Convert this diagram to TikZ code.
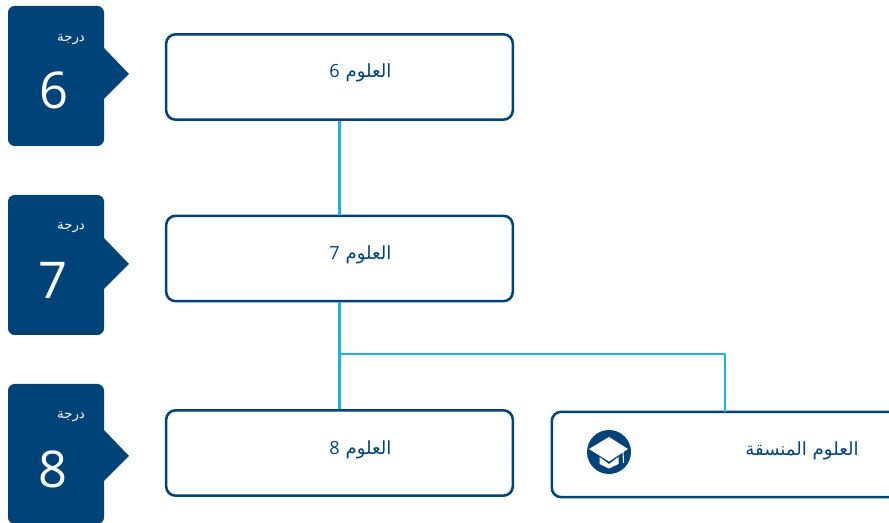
\documentclass[tikz,border=0pt]{standalone}
\usepackage{fontspec}
\setmainfont{Open Sans}
\newfontfamily\arabicfont[Script=Arabic]{DejaVu Sans}
\TeXXeTstate=1
\usepackage{xcolor}
\usetikzlibrary{calc,positioning}
\definecolor{navy}{HTML}{004379}
\definecolor{sky}{HTML}{1FB1E6}
\newcommand{\course}[1]{\arabicfont\beginR العلوم #1\endR}
\tikzset{
  gradebox/.style={fill=navy,rounded corners=5pt,minimum width=72pt,minimum height=105pt,inner sep=0pt},
  coursebox/.style={draw=navy,line width=1.9pt,fill=white,rounded corners=7pt,minimum width=260pt,minimum height=64pt,inner sep=0pt},
  gradetip/.style={fill=navy},
  gradeword/.style={text=white,font=\arabicfont\fontsize{10}{12}\selectfont},
  gradenum/.style={text=white,font=\fontsize{38}{44}\selectfont},
  coursetext/.style={text=navy,font=\fontsize{13.6}{16}\selectfont},
  link/.style={draw=sky,line width=2.2pt}
}
\begin{document}
\begin{tikzpicture}[x=0.75pt,y=0.75pt,line join=round]
\useasboundingbox (0,0) rectangle (889,523);
\clip (0,0) rectangle (889,523);
% connectors first, boxes go over them
\coordinate (bend1) at (339.5,169);
\coordinate (bend2) at (725,169);
\node[coursebox] (sci6) at (339.5,446) {};
\node[coursebox] (sci7) at (339.5,264.5) {};
\node[coursebox] (sci8) at (339.5,70) {};
\node[coursebox,anchor=west] (coord) at (550.5,68.5) {};
\coordinate (coordtop) at (725,111);
\draw[link] (sci6.south) -- (sci7.north);
\draw[link] (sci7.south) -- (sci8.north);
\draw[link] (bend1) -- (bend2) -- (coordtop);
% grade 6
\node[gradebox] (grade6) at (56,447) {};
\fill[gradetip] (104,475) -- (129,449) -- (104,424) -- cycle;
\node[gradeword] (word6) at (71,483) {\beginR درجة\endR};
\node[gradenum] (num6) at (53.5,433) {6};
% grade 7
\node[gradebox] (grade7) at (56,258) {};
\fill[gradetip] (104,285) -- (129,259) -- (104,234) -- cycle;
\node[gradeword] (word7) at (71,295) {\beginR درجة\endR};
\node[gradenum] (num7) at (53,243) {7};
% grade 8
\node[gradebox] (grade8) at (56,69) {};
\fill[gradetip] (104,93) -- (129,67) -- (104,42) -- cycle;
\node[gradeword] (word8) at (71,106) {\beginR درجة\endR};
\node[gradenum] (num8) at (52.5,54) {8};
% labels
\node[coursetext] (label6) at (360.5,450) {\course{\rmfamily 6}};
\node[coursetext] (label7) at (360.5,268) {\course{\rmfamily 7}};
\node[coursetext] (label8) at (360.5,73) {\course{\rmfamily 8}};
\node[coursetext] (label9) at (802,72) {\arabicfont\beginR العلوم المنسقة\endR};
% cap icon
\fill[navy] (609,71) circle (22);
\fill[white] (589,74) -- (609,86) -- (628,74) -- (609,61.5) -- cycle;
\fill[white] (599.5,66) -- (609,59) -- (618.5,66) -- (618.5,59) -- (609,54.5) -- (599.5,59) -- cycle;
\draw[white,line width=0.8pt] (623,72) -- (623.5,60);
\end{tikzpicture}
\end{document}
